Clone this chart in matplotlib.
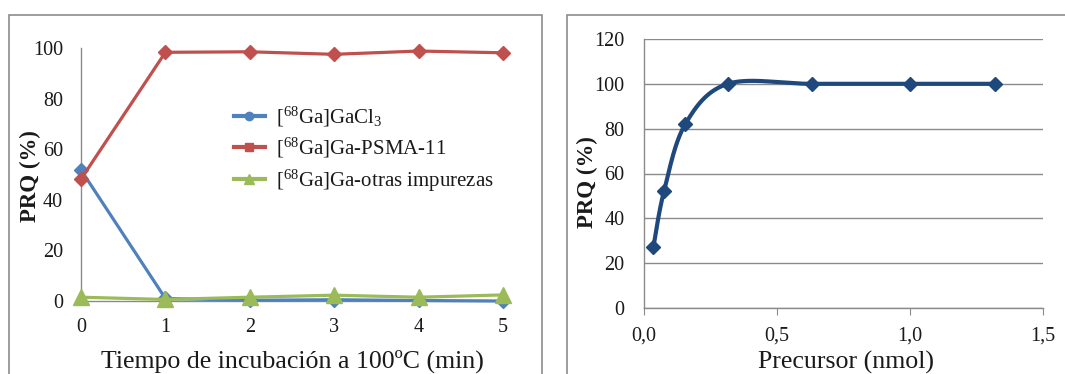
import numpy as np
import matplotlib
matplotlib.use("Agg")
import matplotlib.pyplot as plt
from matplotlib.lines import Line2D
from matplotlib.patches import Rectangle

plt.rcParams['font.family'] = ['Liberation Serif', 'DejaVu Serif']
plt.rcParams['mathtext.fontset'] = 'custom'
plt.rcParams['mathtext.rm'] = 'Liberation Serif'
plt.rcParams['mathtext.it'] = 'Liberation Serif:italic'
plt.rcParams['mathtext.bf'] = 'Liberation Serif:bold'

# ---- data: left panel ----
tiempo = [0, 1, 2, 3, 4, 5]
gacl3 = [51.8, 1.0, 0.3, 0.5, 0.2, 0.0]
psma11 = [48.2, 98.3, 98.5, 97.5, 98.8, 98.1]
impurezas = [1.5, 0.6, 1.5, 2.3, 1.5, 2.4]
series_labels = [r'[$^{68}$Ga]GaCl$_{3}$', r'[$^{68}$Ga]Ga-PSMA-11', r'[$^{68}$Ga]Ga-otras impurezas']
left_xticks = [0, 1, 2, 3, 4, 5]
left_yticks = [0, 20, 40, 60, 80, 100]

# ---- data: right panel ----
precursor = [0.035, 0.075, 0.155, 0.315, 0.63, 1.0, 1.32]
prq = [27, 52, 82, 100, 100, 100, 100]
right_xticks = [0.0, 0.5, 1.0, 1.5]
right_xticklabels = ['0,0', '0,5', '1,0', '1,5']
right_yticks = [0, 20, 40, 60, 80, 100, 120]

W, H = 1065, 374
fig = plt.figure(figsize=(W / 100, H / 100), dpi=100)
fig.patch.set_facecolor('white')

def fx(px):
    return px / W

def fy(py):
    return 1 - py / H

# outer frames
fig.patches.append(Rectangle((fx(9), -0.1), fx(542) - fx(9), fy(15) + 0.1,
                             transform=fig.transFigure, fill=False,
                             edgecolor='#8c8c8c', linewidth=1.2))
fig.patches.append(Rectangle((fx(567), -0.1), 0.6, fy(15) + 0.1,
                             transform=fig.transFigure, fill=False,
                             edgecolor='#8c8c8c', linewidth=1.2))

tick_color = '#1a1a1a'
axis_gray = '#8a8a8a'

# ---- left axes ----
ax1 = fig.add_axes([fx(81), fy(301), fx(503) - fx(81), fy(48) - fy(301)])
ax1.set_xlim(0, 5)
ax1.set_ylim(0, 100)
ax1.plot(tiempo, gacl3, color='#4F81BD', lw=2.3, marker='D', ms=7,
         clip_on=False, zorder=3)
ax1.plot(tiempo, psma11, color='#C0504D', lw=2.3, marker='D', ms=7,
         clip_on=False, zorder=4)
ax1.plot(tiempo, impurezas, color='#9BBB59', lw=2.3, marker='^', ms=12,
         clip_on=False, zorder=5)
for s in ['top', 'right']:
    ax1.spines[s].set_visible(False)
for s in ['left', 'bottom']:
    ax1.spines[s].set_color(axis_gray)
    ax1.spines[s].set_linewidth(1.0)
ax1.set_xticks(left_xticks)
ax1.set_yticks(left_yticks)
ax1.tick_params(axis='both', length=0, labelsize=14.5, colors=tick_color)
ax1.tick_params(axis='y', pad=13)
ax1.tick_params(axis='x', pad=12)

handles = [
    Line2D([], [], color='#4F81BD', lw=3, marker='o', ms=6),
    Line2D([], [], color='#C0504D', lw=3, marker='s', ms=6),
    Line2D([], [], color='#9BBB59', lw=3, marker='^', ms=7),
]
leg = ax1.legend(handles, series_labels, loc='upper left',
                 bbox_to_anchor=((226 - 81) / (503 - 81), (301 - 96) / (301 - 48)),
                 frameon=False, fontsize=15, handlelength=1.45,
                 handletextpad=0.55, labelspacing=0.36, borderaxespad=0)
for t in leg.get_texts():
    t.set_color('#1a1a1a')

fig.text(fx(30), fy(176), 'PRQ (%)', rotation=90, ha='center', va='center',
         fontsize=16.5, fontweight='bold', color=tick_color)
fig.text(fx(292), fy(361), 'Tiempo de incubación a 100ºC (min)', ha='center',
         va='center', fontsize=18.6, color=tick_color)

# ---- right axes ----
ax2 = fig.add_axes([fx(644), fy(308), fx(1043) - fx(644), fy(39) - fy(308)])
ax2.set_xlim(0, 1.5)
ax2.set_ylim(0, 120)

# Excel-style smoothed line (cubic Bezier through the points)
px = np.array(precursor, dtype=float)
py = np.array(prq, dtype=float)
n = len(px)
cx, cy = [], []
t = np.linspace(0, 1, 40)
for i in range(n - 1):
    i0 = max(i - 1, 0)
    i3 = min(i + 2, n - 1)
    p0 = np.array([px[i], py[i]])
    p3 = np.array([px[i + 1], py[i + 1]])
    c1 = p0 + (np.array([px[i + 1], py[i + 1]]) - np.array([px[i0], py[i0]])) / 6
    c2 = p3 - (np.array([px[i3], py[i3]]) - np.array([px[i], py[i]])) / 6
    b = ((1 - t) ** 3)[:, None] * p0 + (3 * (1 - t) ** 2 * t)[:, None] * c1 \
        + (3 * (1 - t) * t ** 2)[:, None] * c2 + (t ** 3)[:, None] * p3
    cx.extend(b[:, 0])
    cy.extend(b[:, 1])
ax2.plot(cx, cy, color='#1F497D', lw=3, zorder=3, solid_capstyle='round')
ax2.plot(px, py, ls='none', marker='D', ms=7, color='#1F497D', zorder=4,
         clip_on=False)

ax2.set_yticks(right_yticks)
ax2.set_xticks(right_xticks)
ax2.set_xticklabels(right_xticklabels)
ax2.yaxis.grid(True, color=axis_gray, lw=1.0)
ax2.set_axisbelow(True)
for s in ['top', 'right']:
    ax2.spines[s].set_visible(False)
for s in ['left', 'bottom']:
    ax2.spines[s].set_color(axis_gray)
    ax2.spines[s].set_linewidth(1.0)
ax2.tick_params(axis='y', length=0, labelsize=14.5, colors=tick_color, pad=14)
ax2.tick_params(axis='x', length=5, direction='out', color=axis_gray,
                labelsize=14.5, labelcolor=tick_color, pad=8)

fig.text(fx(587), fy(182), 'PRQ (%)', rotation=90, ha='center', va='center',
         fontsize=16.5, fontweight='bold', color=tick_color)
fig.text(fx(846), fy(362), 'Precursor (nmol)', ha='center', va='center',
         fontsize=18.6, color=tick_color)

fig.savefig('out.png', dpi=100, facecolor='white')
